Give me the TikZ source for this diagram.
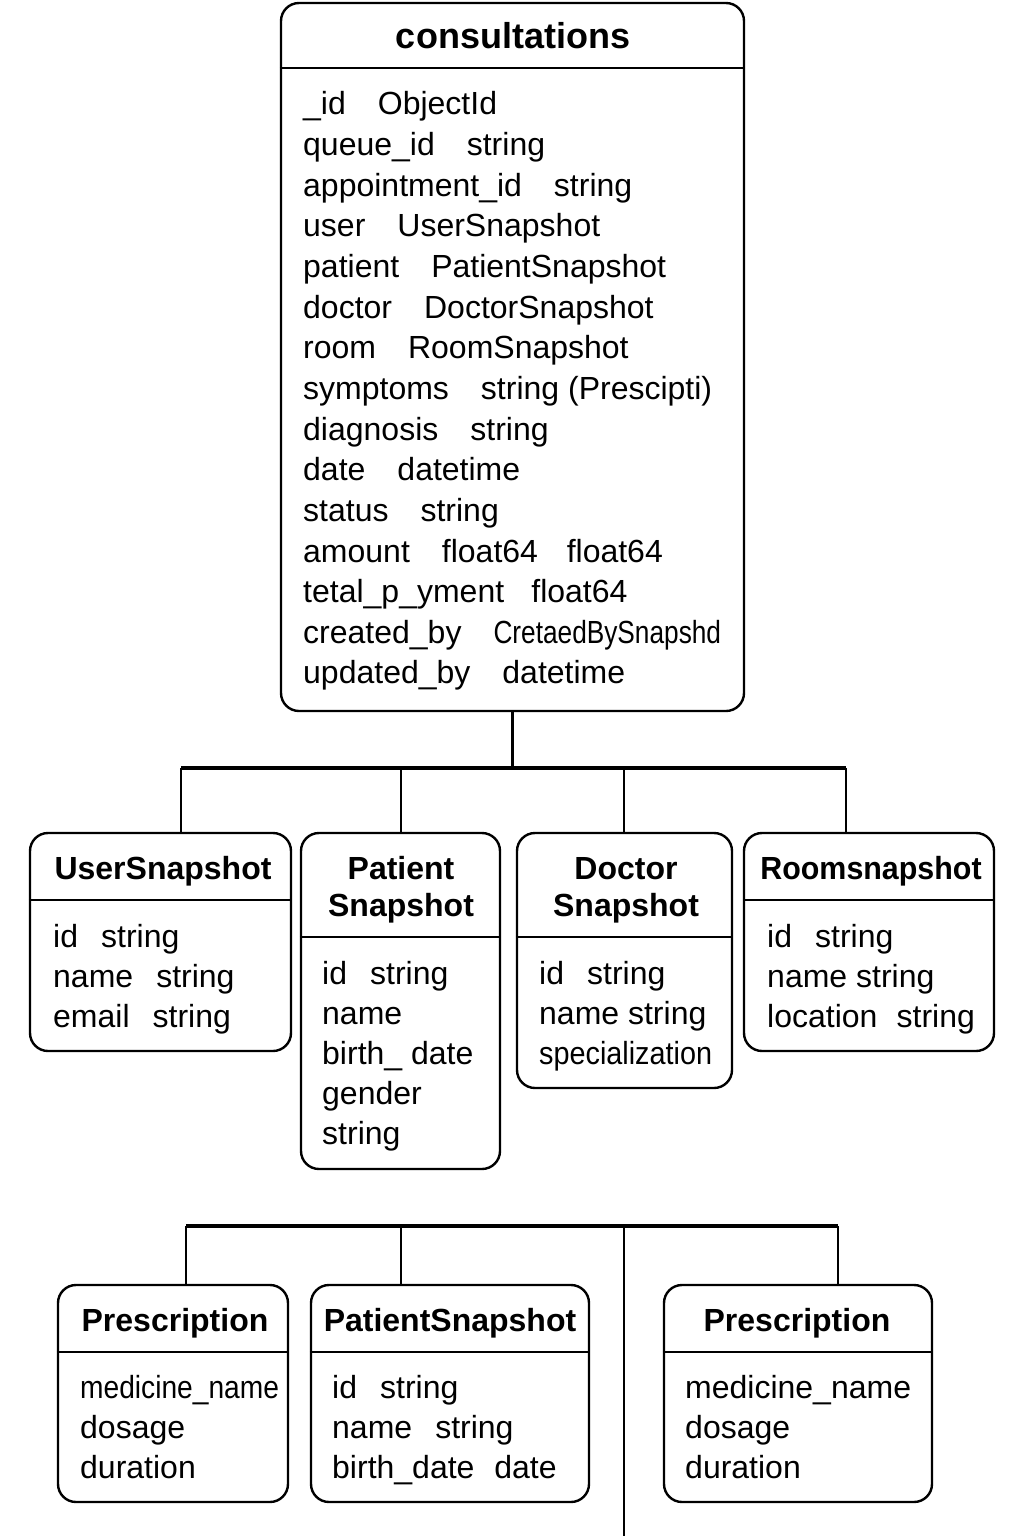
\documentclass[tikz,border=0pt]{standalone}
\usepackage{fontspec}
\usepackage{graphicx}
\setmainfont{Liberation Sans}
\usetikzlibrary{calc}
\tikzset{
  tbl/.style={draw,line width=2.4pt,rounded corners=18pt,inner sep=0pt},
  ttl/.style={anchor=base,inner sep=0pt,font=\bfseries\fontsize{32}{37}\selectfont},
  fld/.style={anchor=base west,inner sep=0pt,font=\fontsize{32}{40}\selectfont},
  hrule/.style={line width=2pt},
  link/.style={line width=2.2pt},
  bus/.style={line width=3.2pt}
}
\newcommand{\gp}{\hspace{1em}}
\newcommand{\sgp}{\hspace{0.72em}}
\begin{document}
\begin{tikzpicture}[x=1pt,y=-1pt]
  \useasboundingbox[fill=white](0,0)rectangle(1024,1536);
  % main collection
  \node[tbl,minimum width=463pt,minimum height=708pt](cons)at(512.5,357){};
  \node[ttl,font=\bfseries\fontsize{36}{40}\selectfont](cons-t)at(513,49){consultations};
  \draw[hrule]($(cons.west|-0,68)$)--($(cons.east|-0,68)$);
  \foreach\f[count=\i]in{{\_id\gp ObjectId},{queue\_id\gp string},{appointment\_id\gp string},
    {user\gp UserSnapshot},{patient\gp PatientSnapshot},{doctor\gp DoctorSnapshot},
    {room\gp RoomSnapshot},{symptoms\gp string (Prescipti)},{diagnosis\gp string},
    {date\gp datetime},{status\gp string},{amount\gp float64\hspace{0.9em}float64},
    {tetal\_p\_yment\hspace{0.85em}float64},{created\_by\gp\scalebox{0.82}[1]{CretaedBySnapshd}},
    {updated\_by\gp datetime}}
    \node[fld](cons-\i)at(303,{115+40.64*(\i-1)}){\f};
  % snapshots
  \node[tbl,minimum width=261pt,minimum height=218pt](user)at(160.5,942){};
  \node[ttl](user-t)at(163,879){UserSnapshot};
  \draw[hrule]($(user.west|-0,900)$)--($(user.east|-0,900)$);
  \foreach\f[count=\i]in{{id\sgp string},{name\sgp string},{email\sgp string}}
    \node[fld](user-\i)at(53,{947+40*(\i-1)}){\f};
  \node[tbl,minimum width=199pt,minimum height=336pt](pat)at(400.5,1001){};
  \node[ttl](pat-t1)at(401,879){Patient};
  \node[ttl](pat-t2)at(401,916){Snapshot};
  \draw[hrule]($(pat.west|-0,937)$)--($(pat.east|-0,937)$);
  \foreach\f[count=\i]in{{id\sgp string},{name},{birth\_ date},{gender},{string}}
    \node[fld](pat-\i)at(322,{984+40*(\i-1)}){\f};
  \node[tbl,minimum width=215pt,minimum height=255pt](doc)at(624.5,960.5){};
  \node[ttl](doc-t1)at(626,879){Doctor};
  \node[ttl](doc-t2)at(626,916){Snapshot};
  \draw[hrule]($(doc.west|-0,937)$)--($(doc.east|-0,937)$);
  \foreach\f[count=\i]in{{id\sgp string},{name string},{\scalebox{0.9}[1]{specialization}}}
    \node[fld](doc-\i)at(539,{984+40*(\i-1)}){\f};
  \node[tbl,minimum width=250pt,minimum height=218pt](room)at(869,942){};
  \node[ttl](room-t)at(871,879){\scalebox{0.95}[1]{Roomsnapshot}};
  \draw[hrule]($(room.west|-0,900)$)--($(room.east|-0,900)$);
  \foreach\f[count=\i]in{{id\sgp string},{name string},{location\hspace{0.6em}string}}
    \node[fld](room-\i)at(767,{947+40*(\i-1)}){\f};
  % upper connectors
  \coordinate(b1)at(cons.south|-0,768);
  \foreach\n/\x in{user/181,pat/401,doc/624,room/846}
    \coordinate(b1-\n)at(\x,768);
  \draw[link](cons.south)--(b1);
  \draw[bus](b1-user)--(b1-room);
  \foreach\n in{user,pat,doc,room}
    \draw[link](b1-\n)--(b1-\n|-\n.north);
  % lower tables
  \node[tbl,minimum width=230pt,minimum height=217pt](presa)at(173,1393.5){};
  \node[ttl](presa-t)at(175,1331){Prescription};
  \draw[hrule]($(presa.west|-0,1352)$)--($(presa.east|-0,1352)$);
  \foreach\f[count=\i]in{{\scalebox{0.88}[1]{medicine\_name}},{dosage},{duration}}
    \node[fld](presa-\i)at(80,{1398+40*(\i-1)}){\f};
  \node[tbl,minimum width=278pt,minimum height=217pt](pats)at(450,1393.5){};
  \node[ttl](pats-t)at(450,1331){PatientSnapshot};
  \draw[hrule]($(pats.west|-0,1352)$)--($(pats.east|-0,1352)$);
  \foreach\f[count=\i]in{{id\sgp string},{name\sgp string},{birth\_date\hspace{0.62em}date}}
    \node[fld](pats-\i)at(332,{1398+40*(\i-1)}){\f};
  \node[tbl,minimum width=268pt,minimum height=217pt](presb)at(798,1393.5){};
  \node[ttl](presb-t)at(797,1331){Prescription};
  \draw[hrule]($(presb.west|-0,1352)$)--($(presb.east|-0,1352)$);
  \foreach\f[count=\i]in{{medicine\_name},{dosage},{duration}}
    \node[fld](presb-\i)at(685,{1398+40*(\i-1)}){\f};
  % lower connectors
  \foreach\n/\x in{presa/186,pats/401,mid/624,presb/838}
    \coordinate(b2-\n)at(\x,1226);
  \coordinate(tail)at(624,1536);
  \draw[bus](b2-presa)--(b2-presb);
  \foreach\n in{presa,pats,presb}
    \draw[link](b2-\n)--(b2-\n|-\n.north);
  \draw[link](b2-mid)--(tail);
\end{tikzpicture}
\end{document}
